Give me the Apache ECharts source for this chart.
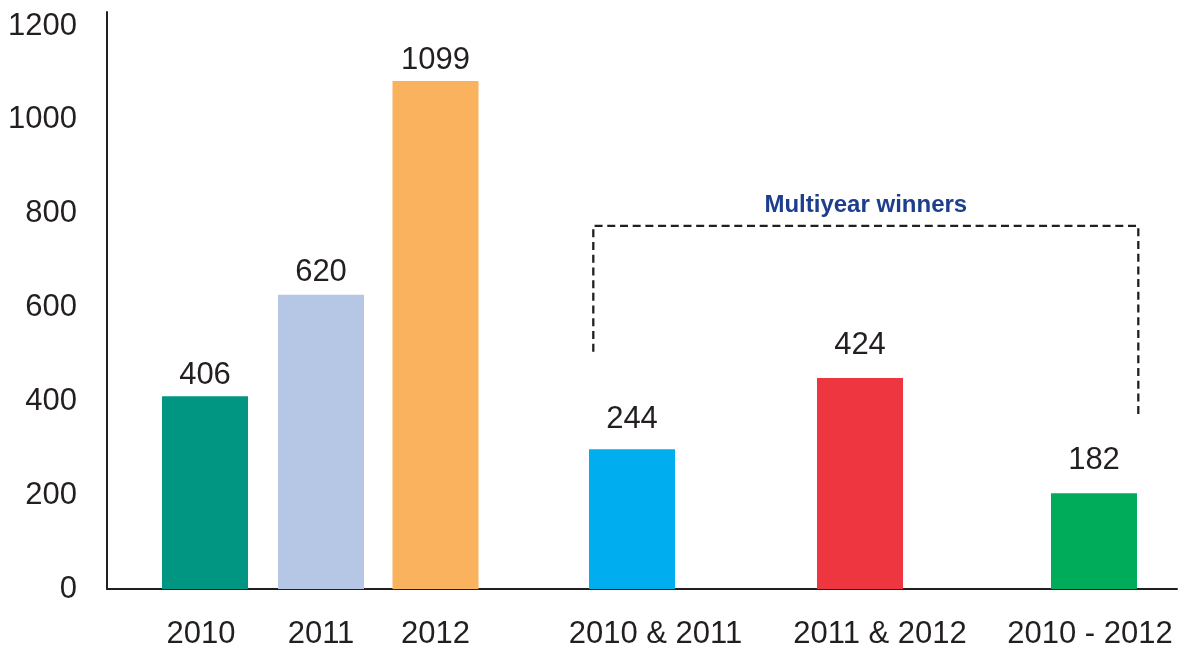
<!DOCTYPE html>
<html>
<head>
<meta charset="utf-8">
<title>Winners by year</title>
<script src="https://cdn.jsdelivr.net/npm/echarts@6/dist/echarts.min.js"></script>
<style>
  html, body { margin: 0; padding: 0; background: #fff; }
  #chart { width: 1179px; height: 645px; }
</style>
</head>
<body>
<div id="chart"></div>
<script>
// Values. Bar heights are what the bars measure against
// the axis; the printed labels are kept as their own list.
const categories = ["2010", "2011", "2012", "2010 & 2011", "2011 & 2012", "2010 - 2012"];
const valueLabels = [406, 620, 1099, 244, 424, 182];
const barHeights = [411, 627, 1083, 298, 450, 204];
const yTicks = [0, 200, 400, 600, 800, 1000, 1200];

// layout: irregular spacing on a hidden position axis (units ~ px from the y axis)
const barSlots = [98, 214, 328.5, 525, 753, 987];
const labelSlots = [94, 214, 328.5, 548.5, 773, 983];
const labelGaps = [5, 7, 5, 14, 17, 17];
const barColors = ["#009681", "#b5c7e5", "#fab25f", "#00aeef", "#ee3641", "#00ac5a"];
// dashed bracket over the multiyear group: [x, y] in axis units
const bracket = [[486.3, 506], [486.3, 774], [1031.3, 774], [1031.3, 369]];

const ink = "#231f20";
const font = "'Liberation Sans', Arial, Helvetica, sans-serif";

const chart = echarts.init(document.getElementById("chart"));

chart.setOption({
  animation: false,
  textStyle: { fontFamily: font },
  grid: {
    left: 107, right: 2, top: 12, bottom: 56,
    containLabel: false, outerBoundsMode: "none",
  },
  xAxis: {
    type: "value",
    min: 0,
    max: 1070,
    splitLine: { show: false },
    axisLine: { show: true, onZero: false, lineStyle: { color: ink, width: 2 } },
    axisTick: { show: false },
    axisLabel: {
      customValues: labelSlots,
      margin: 29.5,
      color: ink,
      fontSize: 31,
      fontFamily: font,
      formatter: (v) => {
        const i = labelSlots.indexOf(v);
        return i >= 0 ? categories[i] : "";
      },
    },
  },
  yAxis: {
    type: "value",
    min: 0,
    max: 1230,
    interval: 200,
    splitLine: { show: false },
    axisLine: { show: true, lineStyle: { color: ink, width: 2 } },
    axisTick: { show: false },
    axisLabel: {
      margin: 30,
      color: ink,
      fontSize: 31,
      fontFamily: font,
      formatter: (v) => (yTicks.includes(v) ? String(v) : ""),
    },
  },
  series: [
    {
      type: "bar",
      barWidth: 86,
      data: barHeights.map((h, i) => ({
        value: [barSlots[i], h],
        itemStyle: { color: barColors[i] },
        label: { distance: labelGaps[i] },
      })),
      label: {
        show: true,
        position: "top",
        color: ink,
        fontSize: 31,
        fontFamily: font,
        formatter: (p) => String(valueLabels[p.dataIndex]),
      },
    },
    {
      type: "line",
      data: bracket,
      symbol: "none",
      silent: true,
      lineStyle: { color: ink, width: 2.3, type: [8, 4.7] },
    },
  ],
});

// title over the bracket, centred on it
const mid = chart.convertToPixel({ gridIndex: 0 }, [
  (bracket[1][0] + bracket[2][0]) / 2, bracket[1][1],
]);
chart.setOption({
  graphic: [{
    type: "text",
    x: mid[0],
    y: mid[1] - 21,
    style: {
      text: "Multiyear winners",
      fill: "#1d3e8c",
      font: `bold 24px ${font}`,
      textAlign: "center",
      textVerticalAlign: "middle",
    },
  }],
});
</script>
</body>
</html>
